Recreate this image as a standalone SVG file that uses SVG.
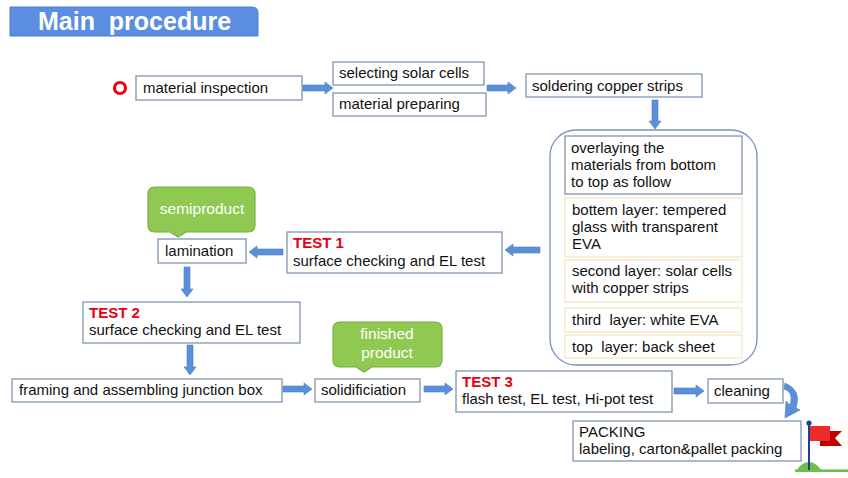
<svg xmlns="http://www.w3.org/2000/svg" width="848" height="478" viewBox="0 0 848 478">
<style>
.box{fill:#fff;stroke:#8094AE;stroke-width:1.3}
.lay{fill:#fff;stroke:#F3E6C4;stroke-width:1.3}
.t{font-family:"Liberation Sans",Arial,sans-serif;font-size:15px;fill:#111}
.red{font-family:"Liberation Sans",Arial,sans-serif;font-size:15px;font-weight:bold;fill:#E60012}
.arr{fill:#5B8FD8;stroke:#4A7CC4;stroke-width:0.6}
.call{fill:#8FC952;stroke:#78AE45;stroke-width:1.2}
.ct{font-family:"Liberation Sans",Arial,sans-serif;font-size:15.5px;fill:#fff;text-anchor:middle}
</style>
<rect width="848" height="478" fill="#fff"/>
<g id="title">
<path d="M10,7 H252 Q258,7 258,13 V36 H10 Z" fill="#5B8EE0" stroke="#4C7ED0" stroke-width="1"/>
<text x="38" y="30" font-family="Liberation Sans,Arial,sans-serif" font-size="25" font-weight="bold" fill="#fff">Main&#160; procedure</text>
</g>
<g id="start"><circle cx="120" cy="88" r="5.5" fill="none" stroke="#E60012" stroke-width="3.2"/></g>
<g id="n-inspection"><rect class="box" x="136" y="76" width="166" height="24"/><text class="t" x="143" y="93">material inspection</text></g>
<g id="n-selecting"><rect class="box" x="333" y="62" width="151" height="23"/><text class="t" x="339" y="78">selecting solar cells</text></g>
<g id="n-preparing"><rect class="box" x="333" y="93" width="153" height="23"/><text class="t" x="339" y="109">material preparing</text></g>
<g id="n-soldering"><rect class="box" x="526" y="74" width="176" height="23"/><text class="t" x="532" y="91">soldering copper strips</text></g>
<g id="n-overlay">
<rect x="550" y="130" width="207" height="235" rx="26" ry="26" fill="#fff" stroke="#7A8FC0" stroke-width="1.3"/>
<rect class="box" x="565" y="136" width="177" height="58"/>
<text class="t" x="571" y="153">overlaying the</text>
<text class="t" x="571" y="170">materials from bottom</text>
<text class="t" x="571" y="187">to top as follow</text>
<rect class="lay" x="565" y="198" width="177" height="59"/>
<text class="t" x="572" y="215">bottem layer: tempered</text>
<text class="t" x="572" y="232">glass with transparent</text>
<text class="t" x="572" y="249">EVA</text>
<rect class="lay" x="565" y="260" width="177" height="42"/>
<text class="t" x="572" y="276">second layer: solar cells</text>
<text class="t" x="572" y="293">with copper strips</text>
<rect class="lay" x="565" y="308" width="177" height="24"/>
<text class="t" x="572" y="325" xml:space="preserve">third  layer: white EVA</text>
<rect class="lay" x="565" y="335" width="177" height="23"/>
<text class="t" x="572" y="352" xml:space="preserve">top  layer: back sheet</text>
</g>
<g id="n-test1"><rect class="box" x="287" y="232" width="215" height="41"/><text class="red" x="293" y="248">TEST 1</text><text class="t" x="293" y="266">surface checking and EL test</text></g>
<g id="n-lamination"><rect class="box" x="158" y="239" width="88" height="24"/><text class="t" x="165" y="256">lamination</text></g>
<g id="c-semiproduct"><path class="call" d="M155,187 H248 Q255,187 255,194 V225 Q255,232 248,232 H186 L178,237 L170,232 H155 Q148,232 148,225 V194 Q148,187 155,187 Z"/><text class="ct" x="202" y="214">semiproduct</text></g>
<g id="n-test2"><rect class="box" x="83" y="302" width="217" height="41"/><text class="red" x="89" y="318">TEST 2</text><text class="t" x="89" y="335">surface checking and EL test</text></g>
<g id="n-framing"><rect class="box" x="12" y="379" width="270" height="23"/><text class="t" x="19" y="395">framing and assembling junction box</text></g>
<g id="n-solid"><rect class="box" x="315" y="379" width="105" height="23"/><text class="t" x="321" y="395">solidificiation</text></g>
<g id="c-finished"><path class="call" d="M340,322 H435 Q442,322 442,329 V360 Q442,367 435,367 H372 L364,372 L356,367 H340 Q333,367 333,360 V329 Q333,322 340,322 Z"/><text class="ct" x="387" y="339">finished</text><text class="ct" x="387" y="358">product</text></g>
<g id="n-test3"><rect class="box" x="456" y="371" width="216" height="41"/><text class="red" x="462" y="387">TEST 3</text><text class="t" x="462" y="404">flash test, EL test, Hi-pot test</text></g>
<g id="n-cleaning"><rect class="box" x="708" y="379" width="75" height="24"/><text class="t" x="714" y="396">cleaning</text></g>
<g id="n-packing"><rect class="box" x="573" y="421" width="228" height="40"/><text class="t" x="579" y="437">PACKING</text><text class="t" x="579" y="454">labeling, carton&amp;pallet packing</text></g>
<g id="flag">
<path d="M796,471 Q802,462 809,462 Q816,462 822,471 Z" fill="#6CC04A"/>
<rect x="795" y="469.5" width="53" height="2.5" fill="#6CC04A"/>
<path d="M820,431 H842 L835,438 L842,446 H820 Z" fill="#C00000"/>
<rect x="810" y="426" width="20" height="15" fill="#EE2A2A"/>
<line x1="809" y1="423" x2="809" y2="470" stroke="#1F3F8F" stroke-width="2"/>
<circle cx="809" cy="423" r="2.6" fill="#1F3F8F"/>
</g>
<g id="connectors">
<polygon class="arr" points="303,85 325,85 325,82 333,88 325,94 325,91 303,91"/>
<polygon class="arr" points="487,85 508,85 508,82 516,88 508,94 508,91 487,91"/>
<polygon class="arr" points="652,100 658,100 658,121 661,121 655,129 649,121 652,121"/>
<polygon class="arr" points="540,247 513,247 513,244 505,250 513,256 513,253 540,253"/>
<polygon class="arr" points="283,249 257,249 257,246 249,252 257,258 257,255 283,255"/>
<polygon class="arr" points="184,267 190,267 190,289 193,289 187,297 181,289 184,289"/>
<polygon class="arr" points="187,345 193,345 193,367 196,367 190,375 184,367 187,367"/>
<polygon class="arr" points="283,386 304,386 304,383 312,389 304,395 304,392 283,392"/>
<polygon class="arr" points="424,386 445,386 445,383 453,389 445,395 445,392 424,392"/>
<polygon class="arr" points="674,388 696,388 696,385 704,391 696,397 696,394 674,394"/>
<path class="arr" d="M785,383 Q802,390 796,408 L800,410 L785,418 L786,401 L790,405 Q794,392 784,389 Z"/>
</g>
</svg>
